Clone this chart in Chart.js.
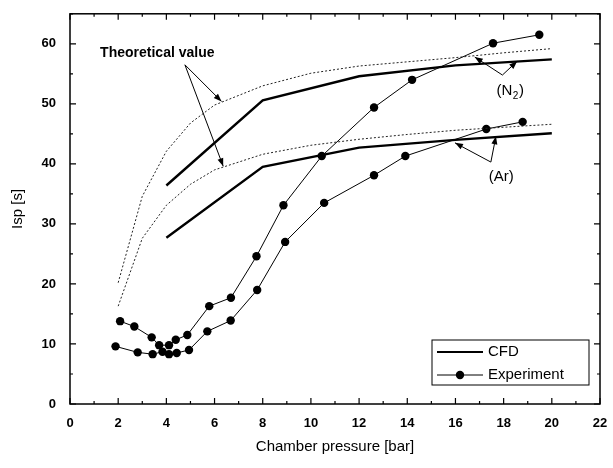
<!DOCTYPE html>
<html>
<head>
<meta charset="utf-8">
<script src="https://cdn.jsdelivr.net/npm/chart.js@4.4.0/dist/chart.umd.min.js"></script>
<style>
  html, body { margin: 0; padding: 0; background: #fff; }
  #wrap { width: 613px; height: 468px; }
</style>
</head>
<body>
<div id="wrap"><canvas id="chart"></canvas></div>
<script>
// axis ticks
const xTickLabels = [0, 2, 4, 6, 8, 10, 12, 14, 16, 18, 20, 22];
const yTickLabels = [0, 10, 20, 30, 40, 50, 60];

// CFD results
const cfdPressure = [4, 8, 12, 16, 20];
const cfdN2 = [36.4, 50.6, 54.6, 56.4, 57.4];
const cfdAr = [27.7, 39.5, 42.7, 44.0, 45.1];

// theoretical value
const theoryPressure = [2, 3, 4, 5, 6, 8, 10, 12, 14, 16, 18, 20];
const theoryN2 = [20.2, 34.6, 42.1, 46.8, 49.8, 53.0, 55.1, 56.3, 57.0, 57.7, 58.5, 59.2];
const theoryAr = [16.3, 27.6, 33.1, 36.6, 39.0, 41.6, 43.1, 44.1, 44.9, 45.6, 46.1, 46.6];

// experiment
const expN2Pressure = [2.08, 2.67, 3.39, 3.70, 4.11, 4.39, 4.87, 5.78, 6.68, 7.74, 8.86, 10.45, 12.62, 14.2, 17.56, 19.48];
const expN2Isp = [13.8, 12.9, 11.1, 9.8, 9.8, 10.7, 11.5, 16.3, 17.7, 24.6, 33.1, 41.3, 49.4, 54.0, 60.1, 61.5];
const expArPressure = [1.89, 2.81, 3.43, 3.84, 4.11, 4.43, 4.94, 5.70, 6.67, 7.77, 8.93, 10.55, 12.62, 13.92, 17.28, 18.79];
const expArIsp = [9.6, 8.6, 8.3, 8.7, 8.3, 8.5, 9.0, 12.1, 13.9, 19.0, 27.0, 33.5, 38.1, 41.3, 45.8, 47.0];

const pts = (xs, ys) => xs.map((x, i) => ({ x, y: ys[i] }));

function cfdSet(xs, ys) {
  return { data: pts(xs, ys), borderColor: '#000', borderWidth: 2.4, pointRadius: 0, showLine: true, tension: 0 };
}
function theorySet(xs, ys) {
  return { data: pts(xs, ys), borderColor: '#222', borderWidth: 1, borderDash: [2, 2], pointRadius: 0, showLine: true, tension: 0 };
}
function expSet(xs, ys) {
  return { data: pts(xs, ys), borderColor: '#000', borderWidth: 1, pointRadius: 4.2, pointBackgroundColor: '#000',
           pointBorderColor: '#000', pointBorderWidth: 0, showLine: true, tension: 0 };
}

function arrow(ctx, x0, y0, x1, y1) {
  ctx.beginPath();
  ctx.moveTo(x0, y0);
  ctx.lineTo(x1, y1);
  ctx.stroke();
  const a = Math.atan2(y1 - y0, x1 - x0);
  const len = 8, w = 3;
  ctx.beginPath();
  ctx.moveTo(x1, y1);
  ctx.lineTo(x1 - len * Math.cos(a) + w * Math.sin(a), y1 - len * Math.sin(a) - w * Math.cos(a));
  ctx.lineTo(x1 - len * Math.cos(a) - w * Math.sin(a), y1 - len * Math.sin(a) + w * Math.cos(a));
  ctx.closePath();
  ctx.fill();
}

// box with inward ticks on all four sides
const framePlugin = {
  id: 'frame',
  afterDatasetsDraw(chart) {
    const { ctx, chartArea: a, scales: { x, y } } = chart;
    ctx.save();
    ctx.strokeStyle = '#000';
    ctx.lineWidth = 1.5;
    ctx.strokeRect(a.left, a.top, a.right - a.left, a.bottom - a.top);
    ctx.lineWidth = 1.2;
    ctx.beginPath();
    for (let v = 0; v <= 22; v++) {
      const p = x.getPixelForValue(v);
      const l = v % 2 === 0 ? 6 : 3;
      ctx.moveTo(p, a.bottom); ctx.lineTo(p, a.bottom - l);
      ctx.moveTo(p, a.top); ctx.lineTo(p, a.top + l);
    }
    for (let v = 0; v <= 65; v += 5) {
      const p = y.getPixelForValue(v);
      const l = v % 10 === 0 ? 6 : 3;
      ctx.moveTo(a.left, p); ctx.lineTo(a.left + l, p);
      ctx.moveTo(a.right, p); ctx.lineTo(a.right - l, p);
    }
    ctx.stroke();
    ctx.restore();
  },
  afterDraw(chart) {
    const { ctx, chartArea: a, scales: { x, y } } = chart;
    const P = (vx, vy) => [x.getPixelForValue(vx), y.getPixelForValue(vy)];
    ctx.save();
    ctx.strokeStyle = '#000';
    ctx.fillStyle = '#000';
    ctx.lineWidth = 1;

    // theoretical value label + arrows
    ctx.font = 'bold 14px "Liberation Sans", Arial, sans-serif';
    ctx.textAlign = 'left';
    ctx.textBaseline = 'middle';
    let [tx, ty] = P(1.25, 58.4);
    ctx.fillText('Theoretical value', tx, ty);
    let o = P(4.77, 56.5);
    arrow(ctx, o[0], o[1], ...P(6.29, 50.4));
    arrow(ctx, o[0], o[1], ...P(6.36, 39.6));

    // (N2)
    ctx.font = '15px "Liberation Sans", Arial, sans-serif';
    ctx.textAlign = 'center';
    let [nx, ny] = P(18.2, 52.1);
    ctx.fillText('(N', nx - 4, ny);
    ctx.font = '10px "Liberation Sans", Arial, sans-serif';
    ctx.fillText('2', nx + 7, ny + 5);
    ctx.font = '15px "Liberation Sans", Arial, sans-serif';
    ctx.fillText(')', nx + 13, ny);
    o = P(17.95, 54.8);
    arrow(ctx, o[0], o[1], ...P(16.8, 57.8));
    arrow(ctx, o[0], o[1], ...P(18.56, 57.1));

    // (Ar)
    let [ax, ay] = P(17.9, 37.9);
    ctx.fillText('(Ar)', ax, ay);
    o = P(17.47, 40.3);
    arrow(ctx, o[0], o[1], ...P(15.98, 43.5));
    arrow(ctx, o[0], o[1], ...P(17.68, 44.6));

    // legend
    const lx = a.right - 168, ly = a.bottom - 64, lw = 157, lh = 45;
    ctx.lineWidth = 1;
    ctx.strokeRect(lx, ly, lw, lh);
    ctx.font = '15px "Liberation Sans", Arial, sans-serif';
    ctx.textAlign = 'left';
    ctx.lineWidth = 2.2;
    ctx.beginPath();
    ctx.moveTo(lx + 5, ly + 12); ctx.lineTo(lx + 51, ly + 12);
    ctx.stroke();
    ctx.fillText('CFD', lx + 56, ly + 12);
    ctx.lineWidth = 1;
    ctx.beginPath();
    ctx.moveTo(lx + 5, ly + 35); ctx.lineTo(lx + 51, ly + 35);
    ctx.stroke();
    ctx.beginPath();
    ctx.arc(lx + 28, ly + 35, 4.2, 0, Math.PI * 2);
    ctx.fill();
    ctx.fillText('Experiment', lx + 56, ly + 35);
    ctx.restore();
  }
};

const tickFont = { family: '"Liberation Sans", Arial, sans-serif', size: 13, weight: 'bold' };
const titleFont = { family: '"Liberation Sans", Arial, sans-serif', size: 15 };

new Chart(document.getElementById('chart'), {
  type: 'scatter',
  data: {
    datasets: [
      cfdSet(cfdPressure, cfdN2),
      cfdSet(cfdPressure, cfdAr),
      theorySet(theoryPressure, theoryN2),
      theorySet(theoryPressure, theoryAr),
      expSet(expN2Pressure, expN2Isp),
      expSet(expArPressure, expArIsp),
    ]
  },
  options: {
    responsive: true,
    maintainAspectRatio: false,
    animation: false,
    layout: { padding: { top: 10, right: 13, left: 0, bottom: 0 } },
    plugins: { legend: { display: false }, tooltip: { enabled: false } },
    scales: {
      x: {
        type: 'linear', min: 0, max: 22,
        afterBuildTicks: s => { s.ticks = xTickLabels.map(v => ({ value: v })); },
        afterFit: s => { s.height = 64; },
        grid: { display: false }, border: { display: false },
        ticks: { color: '#000', font: tickFont, padding: 4, maxRotation: 0 },
        title: { display: true, text: 'Chamber pressure [bar]', color: '#000', font: titleFont, padding: { top: 0, bottom: 12 } }
      },
      y: {
        type: 'linear', min: 0, max: 65,
        afterBuildTicks: s => { s.ticks = yTickLabels.map(v => ({ value: v })); },
        afterFit: s => { s.width = 70; },
        grid: { display: false }, border: { display: false },
        ticks: { color: '#000', font: tickFont, padding: 6 },
        title: { display: true, text: 'Isp [s]', color: '#000', font: titleFont, padding: { top: 9, bottom: 0 } }
      }
    }
  },
  plugins: [framePlugin]
});
</script>
</body>
</html>
